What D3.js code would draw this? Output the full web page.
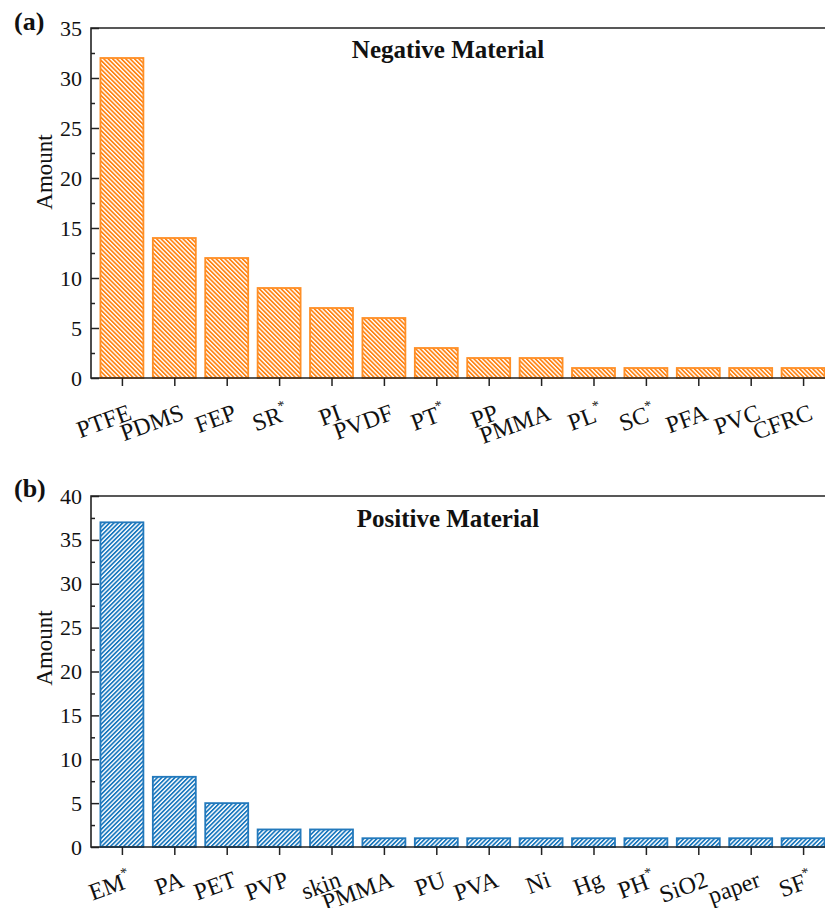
<!DOCTYPE html>
<html>
<head>
<meta charset="utf-8">
<script src="https://cdn.jsdelivr.net/npm/d3@7"></script>
<style>
  body { margin: 0; background: #fff; }
  svg { display: block; }
  text { font-family: "Liberation Serif", "Times New Roman", serif; fill: #111; }
</style>
</head>
<body>
<svg id="chart" width="825" height="908"></svg>
<script>
// Triboelectric materials: how often each one is used
const negCategories = ["PTFE", "PDMS", "FEP", "SR*", "PI", "PVDF", "PT*", "PP", "PMMA", "PL*", "SC*", "PFA", "PVC", "CFRC"];
const negValues = [32, 14, 12, 9, 7, 6, 3, 2, 2, 1, 1, 1, 1, 1];
const negTicks = [0, 5, 10, 15, 20, 25, 30, 35];

const posCategories = ["EM*", "PA", "PET", "PVP", "skin", "PMMA", "PU", "PVA", "Ni", "Hg", "PH*", "SiO2", "paper", "SF*"];
const posValues = [37, 8, 5, 2, 2, 1, 1, 1, 1, 1, 1, 1, 1, 1];
const posTicks = [0, 5, 10, 15, 20, 25, 30, 35, 40];

const svg = d3.select("#chart");
const defs = svg.append("defs");
const axisColor = "#222";

function hatch(id, color, angle) {
  const p = defs.append("pattern")
    .attr("id", id)
    .attr("patternUnits", "userSpaceOnUse")
    .attr("width", 3.1).attr("height", 3.1)
    .attr("patternTransform", `rotate(${angle})`);
  p.append("rect").attr("width", 3.1).attr("height", 3.1).attr("fill", "#fff");
  p.append("rect").attr("width", 1.7).attr("height", 3.1).attr("fill", color);
}
hatch("hatchOrange", "#FF8414", -45);
hatch("hatchBlue", "#1A78BE", 45);

function panel(opt) {
  const { categories, values, ticks, top, bottom, letter, title, titleY, labelY, fill, stroke } = opt;
  const left = 91, right = 834;
  const g = svg.append("g");

  const x = d3.scalePoint().domain(categories).range([left, right]).padding(0.59);
  const y = d3.scaleLinear().domain([0, d3.max(ticks)]).range([bottom, top]);
  const bw = x.step() * 0.82;
  const minor = ticks.slice(0, -1).map(t => t + (ticks[1] - ticks[0]) / 2);

  // bars
  g.selectAll("rect.bar")
    .data(values)
    .join("rect")
    .attr("class", "bar")
    .attr("x", (d, i) => x(categories[i]) - bw / 2)
    .attr("y", d => y(d))
    .attr("width", bw)
    .attr("height", d => y(0) - y(d))
    .attr("fill", `url(#${fill})`)
    .attr("stroke", stroke)
    .attr("stroke-width", 1.8);

  // y axis: inward major and minor ticks
  const ya = g.append("g").attr("transform", `translate(${left},0)`)
    .call(d3.axisLeft(y).tickValues(ticks).tickSize(-8).tickPadding(9).tickFormat(d3.format("d")));
  ya.select(".domain").remove();
  ya.selectAll(".tick line").attr("stroke", axisColor).attr("stroke-width", 1.5);
  ya.selectAll(".tick text").attr("font-size", 22).attr("font-family", "Liberation Serif").attr("fill", "#111");

  const ym = g.append("g").attr("transform", `translate(${left},0)`)
    .call(d3.axisLeft(y).tickValues(minor).tickSize(-4).tickFormat(""));
  ym.select(".domain").remove();
  ym.selectAll(".tick line").attr("stroke", axisColor).attr("stroke-width", 1.5);

  // x axis: outward ticks at each category
  const xa = g.append("g").attr("transform", `translate(0,${bottom})`)
    .call(d3.axisBottom(x).tickSize(8).tickSizeOuter(0).tickFormat(""));
  xa.select(".domain").remove();
  xa.selectAll(".tick line").attr("stroke", axisColor).attr("stroke-width", 1.5);

  // frame
  g.append("path")
    .attr("d", `M${right},${top}H${left}V${bottom}H${right}`)
    .attr("fill", "none").attr("stroke", axisColor).attr("stroke-width", 1.6);

  // rotated category labels, asterisk set as superscript
  categories.forEach(c => {
    const t = g.append("text")
      .attr("transform", `translate(${x(c) + 11},${bottom + labelY}) rotate(-20)`)
      .attr("text-anchor", "end")
      .attr("font-size", 24);
    if (c.endsWith("*")) {
      t.append("tspan").text(c.slice(0, -1));
      t.append("tspan").text("*").attr("font-size", 14).attr("dy", -11);
    } else {
      t.text(c);
    }
  });

  // axis title
  g.append("text")
    .attr("transform", `translate(52,${opt.amountY}) rotate(-90)`)
    .attr("text-anchor", "middle")
    .attr("font-size", 23)
    .text("Amount");

  // panel title and letter
  g.append("text")
    .attr("x", 448).attr("y", titleY)
    .attr("text-anchor", "middle")
    .attr("font-size", 25).attr("font-weight", "bold")
    .text(title);
  g.append("text")
    .attr("x", 14).attr("y", opt.letterY)
    .attr("font-size", 26).attr("font-weight", "bold")
    .text(letter);
}

panel({
  categories: negCategories, values: negValues, ticks: negTicks,
  top: 28, bottom: 378, letter: "(a)", letterY: 30,
  title: "Negative Material", titleY: 58, labelY: 41, amountY: 172,
  fill: "hatchOrange", stroke: "#FF8F26"
});

panel({
  categories: posCategories, values: posValues, ticks: posTicks,
  top: 496, bottom: 847, letter: "(b)", letterY: 497,
  title: "Positive Material", titleY: 527, labelY: 39, amountY: 648,
  fill: "hatchBlue", stroke: "#2379BC"
});
</script>
</body>
</html>
